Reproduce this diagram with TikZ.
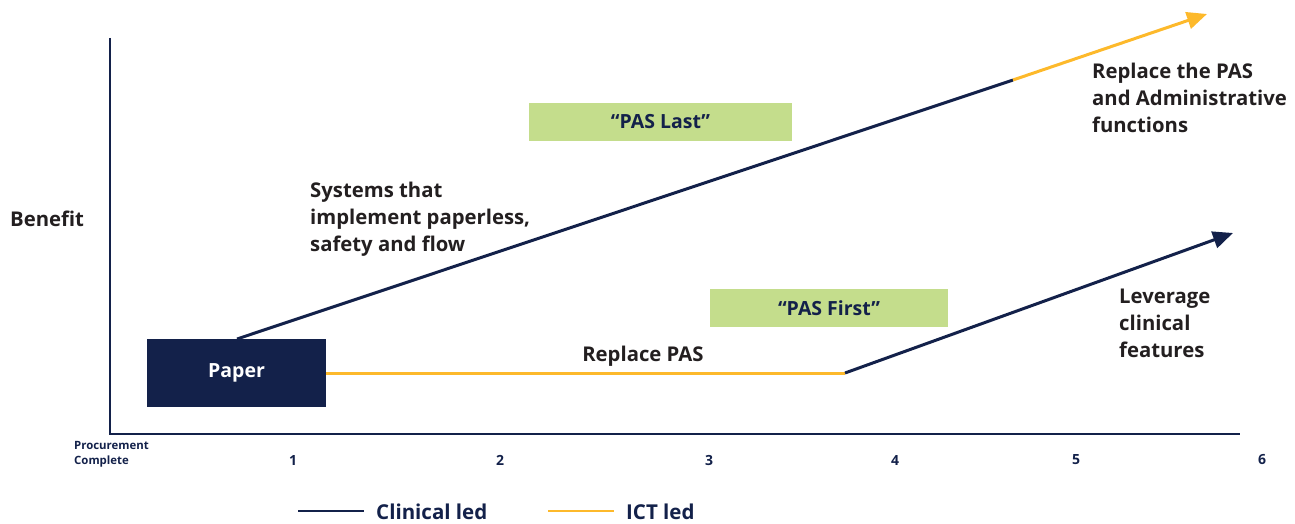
\documentclass[tikz,border=0pt]{standalone}
\usepackage{fontspec}
\setmainfont{Open Sans}
\usetikzlibrary{arrows.meta}
\definecolor{navy}{HTML}{13214A}
\definecolor{gold}{HTML}{FDB92B}
\definecolor{leaf}{HTML}{C4DD8C}
\definecolor{ink}{HTML}{231F20}
\tikzset{
  axis/.style={navy, line width=2pt},
  clin/.style={navy, line width=3pt},
  ict/.style={gold, line width=3pt},
  tip/.style={-{Triangle[length=20pt,width=17pt]}},
  lbl/.style={ink, font=\fontsize{20.3}{27}\selectfont\bfseries, align=left, inner sep=0pt},
  tag/.style={fill=leaf, minimum width=263pt, minimum height=38pt, inner sep=0pt,
    text=navy, font=\fontsize{19.5}{22}\selectfont\bfseries},
  tick/.style={navy, font=\fontsize{14}{15}\selectfont\bfseries, inner sep=0pt},
  legend/.style={navy, font=\fontsize{20.5}{24}\selectfont\bfseries, anchor=west, inner sep=0pt}
}
\begin{document}
\begin{tikzpicture}[x=1pt,y=-1pt]
\useasboundingbox (0,0) rectangle (1295,524);

% axes
\coordinate (top) at (110,38);
\coordinate (origin) at (110,434);
\coordinate (right) at (1240,434);
\draw[axis] (top) -- (origin) -- (right);

% starting point
\node[fill=navy, minimum width=179pt, minimum height=68pt, inner sep=0pt,
  text=white, font=\fontsize{19.5}{22}\selectfont\bfseries] (paper) at (236.5,373) {\raisebox{-2pt}{Paper}};

% upper path: clinical led, then ICT led
\coordinate (upstart) at (237,339);
\coordinate (upmid) at (1013,80);
\coordinate (upend) at (1207,14);
\draw[clin] (upstart) -- (upmid);
\draw[ict, tip] (upmid) -- (upend);

% lower path: ICT led, then clinical led
\coordinate (lowmid) at (845,373);
\coordinate (lowend) at (1233,233);
\draw[ict] (paper.east) -- (lowmid);
\draw[clin, tip] (lowmid) -- (lowend);

% strategy tags
\node[tag] (last) at (660.5,122) {“PAS Last”};
\node[tag, minimum width=238pt] (first) at (829,308) {“PAS First”};

% labels
\node[lbl, anchor=west] (benefit) at (10,219) {Benefit};
\node[lbl, anchor=west] (systems) at (310,219) {Systems that\\implement paperless,\\safety and flow};
\node[lbl, anchor=west] (admin) at (1092,98) {Replace the PAS\\and Administrative\\functions};
\node[lbl] (replace) at (643,356) {Replace PAS};
\node[lbl, anchor=west] (leverage) at (1119,323.5) {Leverage\\clinical\\features};

% horizontal axis labels
\node[navy, font=\fontsize{11.4}{15}\selectfont\bfseries, align=left, anchor=west, inner sep=0pt] (proc) at (74,454) {Procurement\\Complete};
\node[tick] (t1) at (293,460) {1};
\node[tick] (t2) at (500,460) {2};
\node[tick] (t3) at (709,460) {3};
\node[tick] (t4) at (895,460) {4};
\node[tick] (t5) at (1076,460) {5};
\node[tick] (t6) at (1262,460) {6};

% legend
\coordinate (ca) at (298,511);
\coordinate (cb) at (364,511);
\draw[navy, line width=2.5pt] (ca) -- (cb);
\node[legend] (cl) at (376,512) {Clinical led};
\coordinate (ia) at (548,511);
\coordinate (ib) at (614,511);
\draw[gold, line width=2.5pt] (ia) -- (ib);
\node[legend] (il) at (626,512) {ICT led};
\end{tikzpicture}
\end{document}
